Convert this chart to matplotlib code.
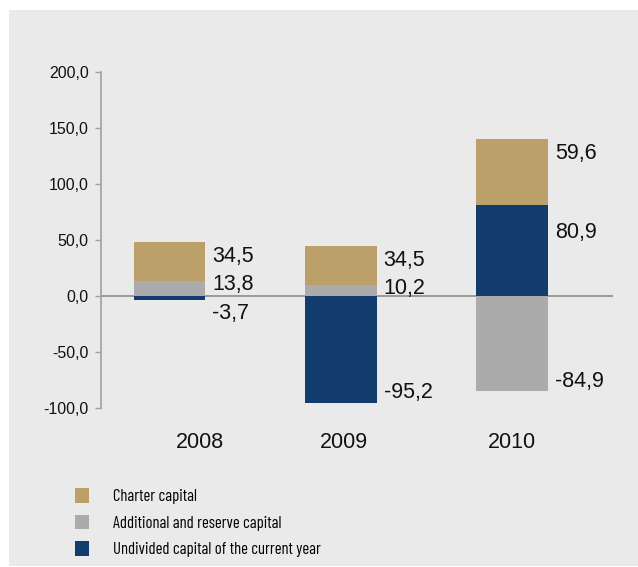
import matplotlib

matplotlib.use("Agg")
import matplotlib.pyplot as plt
import matplotlib.transforms as mtransforms
from matplotlib.patches import Rectangle

years = ["2008", "2009", "2010"]
charter = [34.5, 34.5, 59.6]
additional = [13.8, 10.2, -84.9]
undivided = [-3.7, -95.2, 80.9]
series_names = [
    "Charter capital",
    "Additional and reserve capital",
    "Undivided capital of the current year",
]
y_ticks = [-100, -50, 0, 50, 100, 150, 200]

TAN = "#bca06a"
GREY = "#ababab"
NAVY = "#133c6e"
PANEL = "#eaeaea"
INK = "#111111"

plt.rcParams["font.family"] = ["Liberation Sans", "DejaVu Sans"]
LEGEND_FONT = ["Barlow Condensed", "Liberation Sans"]


def fmt(v):
    return f"{v:.1f}".replace(".", ",")


fig = plt.figure(figsize=(6.38, 5.67), dpi=100)
fig.patch.set_facecolor("white")
fig.patches.append(
    Rectangle((9 / 638, 1 / 567), 1 - 9 / 638, 1 - 11 / 567,
              transform=fig.transFigure, facecolor=PANEL, edgecolor="none", zorder=-5)
)

ax = fig.add_axes([101 / 638, 1 - 408 / 567, (613 - 101) / 638, (408 - 72) / 567], zorder=2)
ax.set_facecolor("none")

x = list(range(len(years)))
width = 0.42

# positives stack upward from zero (charter capital always on top), negatives hang below
segments = []
for i in x:
    parts = [(undivided[i], NAVY), (additional[i], GREY), (charter[i], TAN)]
    up, down = 0.0, 0.0
    for v, color in parts:
        if v >= 0:
            ax.bar(i, v, width=width, bottom=up, color=color, linewidth=0, zorder=2)
            segments.append((i, up + v, v, color))
            up += v
        else:
            ax.bar(i, v, width=width, bottom=down, color=color, linewidth=0, zorder=2)
            segments.append((i, down + v, v, color))
            down += v

for i, end, v, color in segments:
    if v >= 15:
        # the lower block of a two-part positive stack gets its label pushed down a bit
        off, va = (-12 if color != TAN else -3), "top"
    elif v >= 0:
        off, va = -3, "center"
    elif v <= -15:
        off, va = 3, "baseline"
    else:
        off, va = -2, "top"
    trans = ax.transData + mtransforms.ScaledTranslation(5 / 72, off / 72, fig.dpi_scale_trans)
    ax.text(i + width / 2, end, fmt(v), transform=trans, ha="left", va=va,
            fontsize=15.5, color=INK, zorder=3)

ax.axhline(0, color="#8c8c8c", linewidth=1.2, zorder=1)
ax.set_xlim(-0.4, 2.59)
ax.set_ylim(-100, 200)
ax.set_yticks(y_ticks)
ax.set_yticklabels([fmt(t) for t in y_ticks])
ax.tick_params(axis="y", direction="out", length=4, width=1, color="#a0a0a0",
               labelsize=11.5, labelcolor=INK, pad=5)
ax.set_xticks([])
for name in ("top", "right", "bottom"):
    ax.spines[name].set_visible(False)
ax.spines["left"].set_color("#a0a0a0")
ax.spines["left"].set_linewidth(1.2)

# year captions below the plotting area
year_pos = [0.18, 1.02, 2.0]
year_shift = mtransforms.ScaledTranslation(0, -0.35, fig.dpi_scale_trans)
for xp, yr in zip(year_pos, years):
    ax.text(xp, -100, yr, transform=ax.transData + year_shift,
            ha="center", va="center", fontsize=15.5, color=INK)

handles = [Rectangle((0, 0), 1, 1, facecolor=c, edgecolor="none") for c in (TAN, GREY, NAVY)]
fig.legend(handles, series_names, loc="upper left", bbox_to_anchor=(67 / 638, 1 - 480 / 567),
           frameon=False, handlelength=0.8, handleheight=1.0, handletextpad=1.45,
           labelspacing=0.6, borderpad=0, prop={"family": LEGEND_FONT, "size": 12})

fig.savefig("out.png", dpi=100)
